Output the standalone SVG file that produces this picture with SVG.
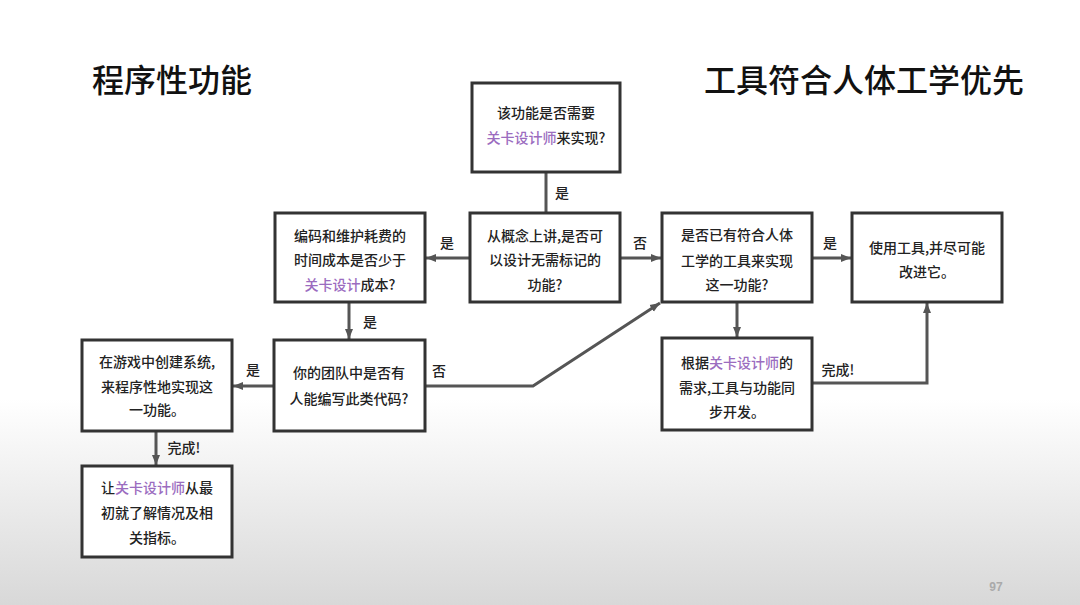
<svg xmlns="http://www.w3.org/2000/svg" width="1080" height="605" viewBox="0 0 1080 605">
<defs>
<linearGradient id="bg" x1="0" y1="0" x2="0" y2="1">
<stop offset="0" stop-color="#ffffff"/>
<stop offset="0.66" stop-color="#ffffff"/>
<stop offset="1" stop-color="#d8d8d8"/>
</linearGradient>
<marker id="ah" markerUnits="userSpaceOnUse" markerWidth="10" markerHeight="10" viewBox="0 0 10 10" refX="10" refY="5" orient="auto">
<path d="M0,1 L10,5 L0,9 Z" fill="#555"/>
</marker>
<style>
.box{fill:#fff;stroke:#333;stroke-width:3}
.t{font-family:"Noto Sans CJK SC","Noto Sans",sans-serif;font-size:14px;font-weight:500;fill:#222;text-anchor:middle}
.p{fill:#9b6cbf}
.title{font-family:"Noto Sans CJK SC","Noto Sans",sans-serif;font-size:32px;font-weight:500;fill:#111}
.c{fill:none;stroke:#555;stroke-width:3}
.ca{fill:none;stroke:#555;stroke-width:3;marker-end:url(#ah)}
.lbl{font-family:"Noto Sans CJK SC","Noto Sans",sans-serif;font-size:14px;font-weight:500;fill:#222;text-anchor:middle}
</style>
</defs>
<rect x="0" y="0" width="1080" height="605" fill="url(#bg)"/>
<text class="title" x="92" y="92">程序性功能</text>
<text class="title" x="704" y="92">工具符合人体工学优先</text>
<text x="996" y="591" font-family="Liberation Sans, sans-serif" font-size="12" font-weight="bold" fill="#aaa" text-anchor="middle">97</text>

<g id="connectors">
<path class="c" d="M546,172 V213"/>
<path class="ca" d="M470,258 H426"/>
<path class="ca" d="M620,258 H661"/>
<path class="ca" d="M812,258 H851"/>
<path class="ca" d="M737,302 V337"/>
<path class="ca" d="M812,383 H927 V303"/>
<path class="ca" d="M349,302 V339"/>
<path class="ca" d="M274,386 H233"/>
<path class="ca" d="M425,386 H533 L660,303"/>
<path class="ca" d="M156,431 V465"/>
<text class="lbl" x="562" y="198">是</text>
<text class="lbl" x="447" y="248">是</text>
<text class="lbl" x="640" y="248">否</text>
<text class="lbl" x="830" y="248">是</text>
<text class="lbl" x="370" y="327">是</text>
<text class="lbl" x="253" y="375">是</text>
<text class="lbl" x="439" y="376">否</text>
<text class="lbl" x="838" y="375">完成!</text>
<text class="lbl" x="184" y="453">完成!</text>
</g>

<g id="n-top">
<rect class="box" x="472" y="83" width="148" height="89"/>
<text class="t" x="546" y="118">该功能是否需要</text>
<text class="t" x="546" y="143"><tspan class="p">关卡设计师</tspan>来实现?</text>
</g>
<g id="n-concept">
<rect class="box" x="470" y="213" width="150" height="89"/>
<text class="t" x="545" y="241">从概念上讲,是否可</text>
<text class="t" x="545" y="265">以设计无需标记的</text>
<text class="t" x="545" y="290">功能?</text>
</g>
<g id="n-cost">
<rect class="box" x="275" y="213" width="150" height="89"/>
<text class="t" x="350" y="241">编码和维护耗费的</text>
<text class="t" x="350" y="265">时间成本是否少于</text>
<text class="t" x="350" y="290"><tspan class="p">关卡设计</tspan>成本?</text>
</g>
<g id="n-tool">
<rect class="box" x="662" y="213" width="150" height="89"/>
<text class="t" x="737" y="240">是否已有符合人体</text>
<text class="t" x="737" y="266">工学的工具来实现</text>
<text class="t" x="737" y="290">这一功能?</text>
</g>
<g id="n-use">
<rect class="box" x="852" y="213" width="150" height="89"/>
<text class="t" x="927" y="253">使用工具,并尽可能</text>
<text class="t" x="927" y="277">改进它。</text>
</g>
<g id="n-dev">
<rect class="box" x="662" y="338" width="150" height="92"/>
<text class="t" x="737" y="368">根据<tspan class="p">关卡设计师</tspan>的</text>
<text class="t" x="737" y="393">需求,工具与功能同</text>
<text class="t" x="737" y="417">步开发。</text>
</g>
<g id="n-team">
<rect class="box" x="274" y="340" width="151" height="91"/>
<text class="t" x="349" y="378">你的团队中是否有</text>
<text class="t" x="349" y="404">人能编写此类代码?</text>
</g>
<g id="n-game">
<rect class="box" x="82" y="340" width="150" height="91"/>
<text class="t" x="157" y="367">在游戏中创建系统,</text>
<text class="t" x="157" y="392">来程序性地实现这</text>
<text class="t" x="157" y="415">一功能。</text>
</g>
<g id="n-designer">
<rect class="box" x="82" y="466" width="150" height="91"/>
<text class="t" x="157" y="493">让<tspan class="p">关卡设计师</tspan>从最</text>
<text class="t" x="157" y="518">初就了解情况及相</text>
<text class="t" x="157" y="543">关指标。</text>
</g>
</svg>
